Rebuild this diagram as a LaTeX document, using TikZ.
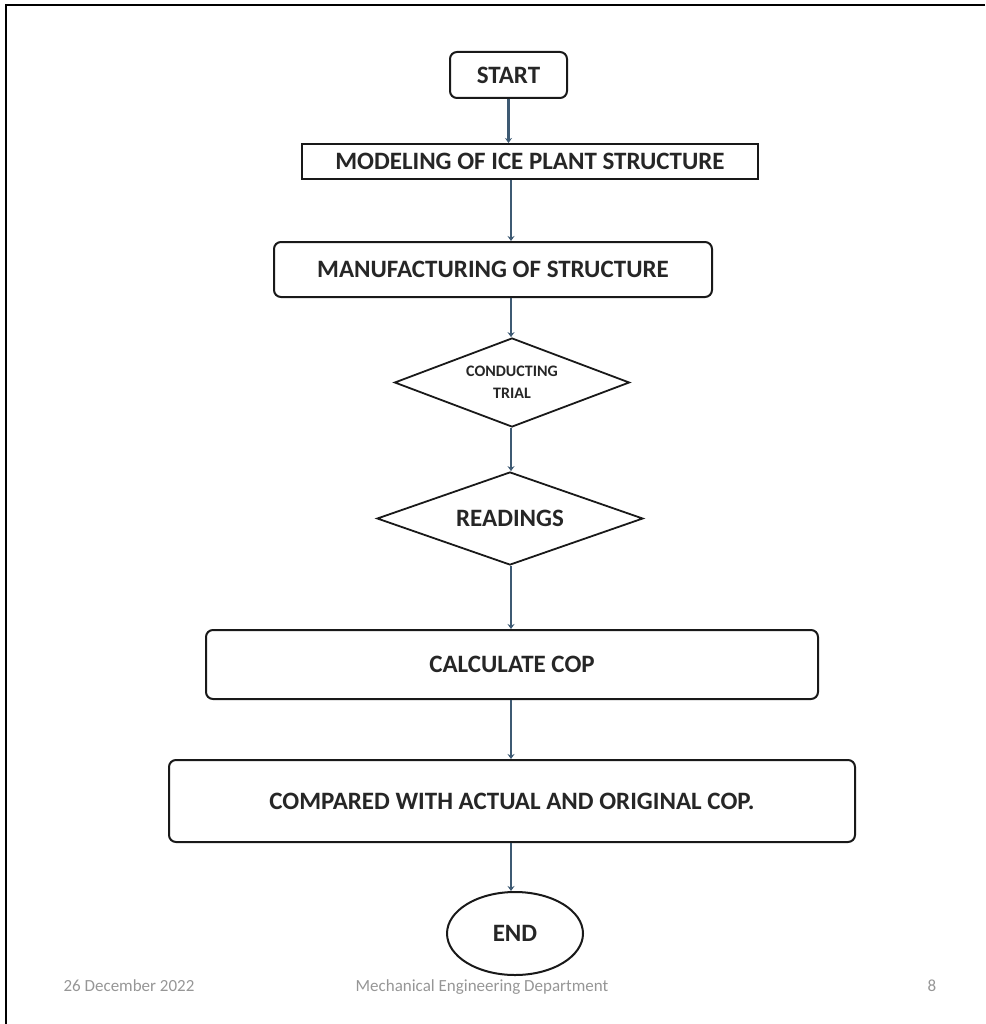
\documentclass[tikz,border=0pt]{standalone}
\usepackage{fontspec}
\setmainfont{Carlito}
\usetikzlibrary{shapes.geometric,arrows.meta}
\definecolor{flowblue}{RGB}{62,90,115}
\definecolor{footgray}{RGB}{150,150,150}
\tikzset{
	stepbox/.style={draw=black!90,line width=2pt,inner sep=0pt,font=\fontsize{25}{28}\bfseries\selectfont,text=black!85},
	roundbox/.style={stepbox,rounded corners=7pt},
	decision/.style={stepbox,diamond,line width=1.8pt},
	terminal/.style={stepbox,ellipse},
	flow/.style={draw=flowblue,line width=2.8pt,-{Stealth[length=5pt,width=7pt]}},
	foot/.style={font=\fontsize{17}{19}\selectfont,text=footgray,anchor=base}
}
\begin{document}
\begin{tikzpicture}[x=1pt,y=-1pt]

		\useasboundingbox (0,0) rectangle (985,1024);
		\draw[line width=2pt] (985,5) -- (6,5) -- (6,1024);

		\coordinate (axis) at (511,0);
		\node[roundbox,minimum width=117,minimum height=46] (start) at (508.5,75) {START};
		\node[stepbox,minimum width=456,minimum height=35] (model) at (530,161.5) {MODELING OF ICE PLANT STRUCTURE};
		\node[roundbox,minimum width=438,minimum height=55] (manuf) at (493,269.5) {MANUFACTURING OF STRUCTURE};
		\node[decision,aspect=2.64,minimum width=235,minimum height=89,align=center,font=\fontsize{16}{22}\bfseries\selectfont] (trial) at (512,382.5) {CONDUCTING\\TRIAL};
		\node[decision,aspect=2.86,minimum width=266,minimum height=93] (read) at (510,518.5) {READINGS};
		\node[roundbox,minimum width=612,minimum height=69] (cop) at (512,664.5) {CALCULATE COP};
		\node[roundbox,minimum width=686,minimum height=82] (comp) at (512,801) {COMPARED WITH ACTUAL AND ORIGINAL COP.};
		\node[terminal,minimum width=136,minimum height=83] (end) at (515,933.5) {END};

		\node[foot] (date) at (129,991) {26 December 2022};
		\node[foot] (dept) at (482,991) {Mechanical Engineering Department};
		\node[foot] (page) at (932,991) {8};

		\draw[flow] (start.south) -- (start.south |- model.north);
		\draw[flow] (model.south -| axis) -- (manuf.north -| axis);
		\draw[flow] (manuf.south -| axis) -- (trial.north -| axis);
		\draw[flow] (trial.south -| axis) -- (read.north -| axis);
		\draw[flow] (read.south -| axis) -- (cop.north -| axis);
		\draw[flow] (cop.south -| axis) -- (comp.north -| axis);
		\draw[flow] (comp.south -| axis) -- (end.north -| axis);

	\end{tikzpicture}
\end{document}
